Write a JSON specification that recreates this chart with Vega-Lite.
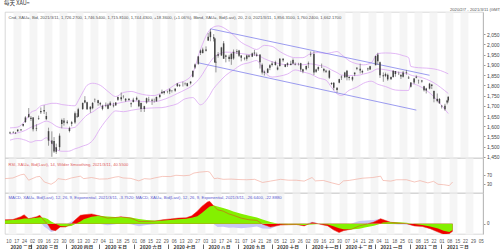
{
"$schema": "https://vega.github.io/schema/vega-lite/v6.json",
"padding": {"left": 3, "top": 0, "right": 0, "bottom": 0},
"background": "white",
"spacing": 0,
"bounds": "flush",
"config": {"view": {"stroke": "#c8c8c8", "strokeWidth": 0.7}, "font": "Liberation Sans", "axis": {"labelFont": "Liberation Sans", "titleFont": "Liberation Sans"}},
"datasets": {
"px": [
{"d":"2020-02-07","o":1566,"h":1574,"l":1562,"c":1570},{"d":"2020-02-10","o":1570,"h":1576,"l":1566,"c":1572},{"d":"2020-02-12","o":1568,"h":1572,"l":1562,"c":1566},{"d":"2020-02-14","o":1576,"h":1584,"l":1572,"c":1584},{"d":"2020-02-17","o":1584,"h":1586,"l":1578,"c":1581},{"d":"2020-02-19","o":1602,"h":1612,"l":1598,"c":1611},{"d":"2020-02-21","o":1620,"h":1649,"l":1617,"c":1643},{"d":"2020-02-24","o":1645,"h":1689,"l":1640,"c":1659},{"d":"2020-02-26","o":1635,"h":1650,"l":1626,"c":1642},{"d":"2020-02-28","o":1643,"h":1645,"l":1575,"c":1585},
{"d":"2020-03-02","o":1587,"h":1610,"l":1576,"c":1590},{"d":"2020-03-04","o":1640,"h":1652,"l":1631,"c":1637},{"d":"2020-03-06","o":1668,"h":1692,"l":1660,"c":1674},{"d":"2020-03-09","o":1672,"h":1703,"l":1660,"c":1680},{"d":"2020-03-11","o":1650,"h":1670,"l":1630,"c":1635},{"d":"2020-03-13","o":1576,"h":1593,"l":1505,"c":1530},{"d":"2020-03-16","o":1530,"h":1575,"l":1451,"c":1515},{"d":"2020-03-18","o":1528,"h":1547,"l":1470,"c":1477},{"d":"2020-03-20","o":1475,"h":1515,"l":1465,"c":1498},{"d":"2020-03-23","o":1498,"h":1565,"l":1482,"c":1554},{"d":"2020-03-25","o":1630,"h":1637,"l":1590,"c":1611},{"d":"2020-03-27","o":1628,"h":1640,"l":1603,"c":1617},{"d":"2020-03-30","o":1617,"h":1630,"l":1610,"c":1622},
{"d":"2020-04-01","o":1577,"h":1598,"l":1570,"c":1591},{"d":"2020-04-03","o":1612,"h":1626,"l":1600,"c":1620},{"d":"2020-04-06","o":1618,"h":1672,"l":1612,"c":1664},{"d":"2020-04-08","o":1649,"h":1664,"l":1640,"c":1647},{"d":"2020-04-09","o":1647,"h":1690,"l":1645,"c":1683},{"d":"2020-04-13","o":1684,"h":1716,"l":1680,"c":1714},{"d":"2020-04-15","o":1727,"h":1747,"l":1712,"c":1716},{"d":"2020-04-17","o":1717,"h":1720,"l":1680,"c":1683},{"d":"2020-04-20","o":1683,"h":1699,"l":1666,"c":1695},{"d":"2020-04-22","o":1688,"h":1718,"l":1683,"c":1714},{"d":"2020-04-24","o":1728,"h":1736,"l":1717,"c":1729},{"d":"2020-04-27","o":1727,"h":1729,"l":1700,"c":1713},{"d":"2020-04-29","o":1707,"h":1719,"l":1700,"c":1713},
{"d":"2020-05-01","o":1685,"h":1705,"l":1678,"c":1700},{"d":"2020-05-04","o":1700,"h":1716,"l":1693,"c":1702},{"d":"2020-05-06","o":1705,"h":1712,"l":1683,"c":1685},{"d":"2020-05-08","o":1715,"h":1722,"l":1699,"c":1703},{"d":"2020-05-11","o":1702,"h":1715,"l":1692,"c":1698},{"d":"2020-05-13","o":1702,"h":1718,"l":1700,"c":1716},{"d":"2020-05-15","o":1730,"h":1745,"l":1724,"c":1743},{"d":"2020-05-18","o":1742,"h":1765,"l":1722,"c":1732},{"d":"2020-05-20","o":1746,"h":1752,"l":1736,"c":1747},{"d":"2020-05-22","o":1726,"h":1738,"l":1719,"c":1734},{"d":"2020-05-25","o":1734,"h":1737,"l":1724,"c":1728},{"d":"2020-05-27","o":1712,"h":1717,"l":1693,"c":1708},{"d":"2020-05-29","o":1718,"h":1739,"l":1717,"c":1730},
{"d":"2020-06-01","o":1730,"h":1745,"l":1725,"c":1739},{"d":"2020-06-03","o":1727,"h":1730,"l":1693,"c":1698},{"d":"2020-06-05","o":1713,"h":1716,"l":1670,"c":1684},{"d":"2020-06-08","o":1684,"h":1700,"l":1670,"c":1698},{"d":"2020-06-10","o":1716,"h":1740,"l":1710,"c":1737},{"d":"2020-06-12","o":1727,"h":1744,"l":1720,"c":1730},{"d":"2020-06-15","o":1729,"h":1735,"l":1704,"c":1725},{"d":"2020-06-17","o":1727,"h":1735,"l":1716,"c":1727},{"d":"2020-06-19","o":1722,"h":1745,"l":1720,"c":1743},{"d":"2020-06-22","o":1743,"h":1756,"l":1737,"c":1754},{"d":"2020-06-24","o":1768,"h":1779,"l":1757,"c":1761},{"d":"2020-06-26","o":1762,"h":1772,"l":1755,"c":1771},{"d":"2020-06-29","o":1771,"h":1774,"l":1761,"c":1772},
{"d":"2020-07-01","o":1780,"h":1785,"l":1757,"c":1770},{"d":"2020-07-03","o":1775,"h":1776,"l":1765,"c":1773},{"d":"2020-07-06","o":1774,"h":1786,"l":1768,"c":1783},{"d":"2020-07-08","o":1796,"h":1810,"l":1792,"c":1809},{"d":"2020-07-10","o":1802,"h":1805,"l":1792,"c":1798},{"d":"2020-07-13","o":1801,"h":1818,"l":1794,"c":1801},{"d":"2020-07-15","o":1806,"h":1814,"l":1800,"c":1808},{"d":"2020-07-17","o":1796,"h":1812,"l":1795,"c":1810},{"d":"2020-07-20","o":1810,"h":1820,"l":1804,"c":1818},{"d":"2020-07-22","o":1842,"h":1871,"l":1838,"c":1871},{"d":"2020-07-24","o":1887,"h":1906,"l":1880,"c":1902},{"d":"2020-07-27","o":1905,"h":1944,"l":1900,"c":1941},{"d":"2020-07-29","o":1958,"h":1975,"l":1948,"c":1970},{"d":"2020-07-31","o":1958,"h":1984,"l":1955,"c":1975},
{"d":"2020-08-03","o":1975,"h":1990,"l":1965,"c":1969},{"d":"2020-08-05","o":2019,"h":2055,"l":2016,"c":2037},{"d":"2020-08-07","o":2062,"h":2075,"l":2015,"c":2035},{"d":"2020-08-10","o":2035,"h":2050,"l":2014,"c":2028},{"d":"2020-08-11","o":2028,"h":2032,"l":1911,"c":1911},{"d":"2020-08-12","o":1911,"h":1949,"l":1863,"c":1915},{"d":"2020-08-14","o":1952,"h":1962,"l":1935,"c":1944},{"d":"2020-08-17","o":1946,"h":1988,"l":1943,"c":1985},{"d":"2020-08-19","o":2005,"h":2016,"l":1929,"c":1930},{"d":"2020-08-21","o":1945,"h":1950,"l":1912,"c":1940},{"d":"2020-08-24","o":1940,"h":1949,"l":1916,"c":1929},{"d":"2020-08-26","o":1928,"h":1957,"l":1900,"c":1954},{"d":"2020-08-28","o":1931,"h":1975,"l":1925,"c":1964},{"d":"2020-08-31","o":1964,"h":1976,"l":1953,"c":1968},
{"d":"2020-09-02","o":1970,"h":1973,"l":1938,"c":1944},{"d":"2020-09-04","o":1945,"h":1947,"l":1917,"c":1934},{"d":"2020-09-07","o":1934,"h":1937,"l":1922,"c":1931},{"d":"2020-09-09","o":1930,"h":1950,"l":1920,"c":1946},{"d":"2020-09-11","o":1945,"h":1949,"l":1936,"c":1940},{"d":"2020-09-14","o":1940,"h":1960,"l":1938,"c":1956},{"d":"2020-09-16","o":1955,"h":1973,"l":1944,"c":1960},{"d":"2020-09-18","o":1944,"h":1960,"l":1940,"c":1950},{"d":"2020-09-21","o":1950,"h":1950,"l":1882,"c":1912},{"d":"2020-09-23","o":1900,"h":1907,"l":1853,"c":1863},{"d":"2020-09-25","o":1867,"h":1872,"l":1848,"c":1861},{"d":"2020-09-28","o":1861,"h":1884,"l":1859,"c":1881},{"d":"2020-09-30","o":1898,"h":1903,"l":1874,"c":1886},
{"d":"2020-10-02","o":1906,"h":1917,"l":1892,"c":1899},{"d":"2020-10-05","o":1899,"h":1920,"l":1896,"c":1913},{"d":"2020-10-07","o":1877,"h":1897,"l":1873,"c":1887},{"d":"2020-10-09","o":1894,"h":1933,"l":1891,"c":1930},{"d":"2020-10-12","o":1930,"h":1933,"l":1915,"c":1922},{"d":"2020-10-14","o":1890,"h":1903,"l":1888,"c":1902},{"d":"2020-10-16","o":1908,"h":1912,"l":1890,"c":1899},{"d":"2020-10-19","o":1899,"h":1920,"l":1897,"c":1905},{"d":"2020-10-21","o":1906,"h":1931,"l":1903,"c":1924},{"d":"2020-10-23","o":1904,"h":1911,"l":1897,"c":1902},{"d":"2020-10-26","o":1902,"h":1910,"l":1897,"c":1902},{"d":"2020-10-28","o":1908,"h":1910,"l":1867,"c":1877},{"d":"2020-10-30","o":1868,"h":1881,"l":1859,"c":1879},
{"d":"2020-11-02","o":1879,"h":1897,"l":1873,"c":1894},{"d":"2020-11-04","o":1907,"h":1916,"l":1884,"c":1904},{"d":"2020-11-06","o":1948,"h":1965,"l":1940,"c":1951},{"d":"2020-11-09","o":1953,"h":1966,"l":1850,"c":1862},{"d":"2020-11-11","o":1877,"h":1881,"l":1861,"c":1866},{"d":"2020-11-13","o":1878,"h":1892,"l":1870,"c":1889},{"d":"2020-11-16","o":1889,"h":1906,"l":1885,"c":1888},{"d":"2020-11-18","o":1880,"h":1885,"l":1863,"c":1871},{"d":"2020-11-20","o":1866,"h":1876,"l":1860,"c":1871},{"d":"2020-11-23","o":1871,"h":1875,"l":1831,"c":1837},{"d":"2020-11-25","o":1806,"h":1815,"l":1801,"c":1811},{"d":"2020-11-27","o":1812,"h":1816,"l":1776,"c":1788},{"d":"2020-11-30","o":1788,"h":1790,"l":1764,"c":1777},
{"d":"2020-12-02","o":1813,"h":1832,"l":1810,"c":1830},{"d":"2020-12-04","o":1842,"h":1848,"l":1826,"c":1839},{"d":"2020-12-07","o":1839,"h":1866,"l":1835,"c":1863},{"d":"2020-12-09","o":1871,"h":1875,"l":1824,"c":1839},{"d":"2020-12-11","o":1836,"h":1845,"l":1824,"c":1840},{"d":"2020-12-14","o":1840,"h":1844,"l":1820,"c":1828},{"d":"2020-12-16","o":1854,"h":1863,"l":1845,"c":1862},{"d":"2020-12-18","o":1886,"h":1889,"l":1874,"c":1881},{"d":"2020-12-21","o":1881,"h":1906,"l":1858,"c":1872},{"d":"2020-12-23","o":1863,"h":1876,"l":1857,"c":1870},{"d":"2020-12-28","o":1882,"h":1886,"l":1870,"c":1878},{"d":"2020-12-30","o":1877,"h":1895,"l":1876,"c":1893},
{"d":"2021-01-04","o":1898,"h":1945,"l":1898,"c":1943},{"d":"2021-01-06","o":1950,"h":1959,"l":1901,"c":1918},{"d":"2021-01-08","o":1912,"h":1916,"l":1836,"c":1849},{"d":"2021-01-11","o":1849,"h":1863,"l":1817,"c":1844},{"d":"2021-01-13","o":1855,"h":1862,"l":1840,"c":1846},{"d":"2021-01-15","o":1851,"h":1857,"l":1822,"c":1829},{"d":"2021-01-18","o":1829,"h":1843,"l":1827,"c":1840},{"d":"2021-01-20","o":1840,"h":1873,"l":1837,"c":1871},{"d":"2021-01-22","o":1870,"h":1870,"l":1842,"c":1855},{"d":"2021-01-25","o":1855,"h":1867,"l":1850,"c":1856},{"d":"2021-01-27","o":1850,"h":1855,"l":1831,"c":1843},{"d":"2021-01-29","o":1842,"h":1870,"l":1838,"c":1863},
{"d":"2021-02-01","o":1863,"h":1875,"l":1852,"c":1860},{"d":"2021-02-03","o":1838,"h":1846,"l":1831,"c":1834},{"d":"2021-02-05","o":1793,"h":1815,"l":1789,"c":1814},{"d":"2021-02-08","o":1814,"h":1836,"l":1806,"c":1833},{"d":"2021-02-10","o":1837,"h":1848,"l":1834,"c":1842},{"d":"2021-02-12","o":1825,"h":1828,"l":1808,"c":1824},{"d":"2021-02-15","o":1824,"h":1826,"l":1813,"c":1818},{"d":"2021-02-17","o":1795,"h":1798,"l":1770,"c":1776},{"d":"2021-02-19","o":1775,"h":1788,"l":1760,"c":1784},{"d":"2021-02-22","o":1784,"h":1812,"l":1780,"c":1808},{"d":"2021-02-24","o":1804,"h":1805,"l":1782,"c":1797},{"d":"2021-02-26","o":1772,"h":1775,"l":1717,"c":1734},
{"d":"2021-03-01","o":1734,"h":1760,"l":1717,"c":1723},{"d":"2021-03-03","o":1733,"h":1738,"l":1710,"c":1712},{"d":"2021-03-05","o":1697,"h":1704,"l":1687,"c":1700},{"d":"2021-03-08","o":1700,"h":1710,"l":1676,"c":1683},{"d":"2021-03-10","o":1716,"h":1729,"l":1707,"c":1726},{"d":"2021-03-11","o":1726,"h":1746,"l":1716,"c":1744}
],
"bb": [
{"d":"2020-02-07","u":1592,"m":1562,"lo":1532},{"d":"2020-02-14","u":1596,"m":1568,"lo":1540},{"d":"2020-02-21","u":1628,"m":1580,"lo":1532},{"d":"2020-02-26","u":1668,"m":1595,"lo":1522},{"d":"2020-03-02","u":1680,"m":1605,"lo":1530},{"d":"2020-03-06","u":1700,"m":1615,"lo":1530},{"d":"2020-03-11","u":1706,"m":1625,"lo":1544},{"d":"2020-03-16","u":1712,"m":1615,"lo":1518},{"d":"2020-03-20","u":1712,"m":1600,"lo":1488},{"d":"2020-03-25","u":1706,"m":1592,"lo":1478},{"d":"2020-03-31","u":1702,"m":1590,"lo":1478},{"d":"2020-04-06","u":1700,"m":1595,"lo":1490},{"d":"2020-04-09","u":1725,"m":1610,"lo":1495},{"d":"2020-04-14","u":1775,"m":1640,"lo":1505},{"d":"2020-04-17","u":1800,"m":1655,"lo":1510},{"d":"2020-04-22","u":1810,"m":1670,"lo":1530},{"d":"2020-04-29","u":1800,"m":1695,"lo":1590},{"d":"2020-05-06","u":1770,"m":1705,"lo":1640},{"d":"2020-05-13","u":1745,"m":1710,"lo":1675},{"d":"2020-05-20","u":1765,"m":1718,"lo":1671},{"d":"2020-05-27","u":1770,"m":1724,"lo":1678},{"d":"2020-06-03","u":1760,"m":1722,"lo":1684},{"d":"2020-06-10","u":1752,"m":1720,"lo":1688},{"d":"2020-06-17","u":1750,"m":1720,"lo":1690},{"d":"2020-06-24","u":1765,"m":1728,"lo":1691},{"d":"2020-07-01","u":1785,"m":1742,"lo":1699},{"d":"2020-07-08","u":1810,"m":1760,"lo":1710},{"d":"2020-07-15","u":1822,"m":1778,"lo":1734},{"d":"2020-07-22","u":1860,"m":1800,"lo":1740},{"d":"2020-07-29","u":1975,"m":1840,"lo":1705},{"d":"2020-08-05","u":2060,"m":1900,"lo":1740},{"d":"2020-08-10","u":2085,"m":1935,"lo":1785},{"d":"2020-08-14","u":2090,"m":1950,"lo":1810},{"d":"2020-08-21","u":2075,"m":1962,"lo":1849},{"d":"2020-08-28","u":2045,"m":1960,"lo":1875},{"d":"2020-09-04","u":2010,"m":1955,"lo":1900},{"d":"2020-09-11","u":1990,"m":1950,"lo":1910},{"d":"2020-09-18","u":1975,"m":1948,"lo":1921},{"d":"2020-09-25","u":1995,"m":1930,"lo":1865},{"d":"2020-10-02","u":1990,"m":1915,"lo":1840},{"d":"2020-10-09","u":1965,"m":1905,"lo":1845},{"d":"2020-10-16","u":1945,"m":1900,"lo":1855},{"d":"2020-10-23","u":1935,"m":1905,"lo":1875},{"d":"2020-10-30","u":1935,"m":1900,"lo":1865},{"d":"2020-11-06","u":1955,"m":1905,"lo":1855},{"d":"2020-11-13","u":1960,"m":1898,"lo":1836},{"d":"2020-11-20","u":1955,"m":1890,"lo":1825},{"d":"2020-11-25","u":1960,"m":1875,"lo":1790},{"d":"2020-11-30","u":1965,"m":1862,"lo":1759},{"d":"2020-12-04","u":1950,"m":1850,"lo":1750},{"d":"2020-12-11","u":1920,"m":1848,"lo":1776},{"d":"2020-12-18","u":1905,"m":1848,"lo":1791},{"d":"2020-12-24","u":1900,"m":1855,"lo":1810},{"d":"2020-12-31","u":1910,"m":1865,"lo":1820},{"d":"2021-01-06","u":1955,"m":1880,"lo":1805},{"d":"2021-01-13","u":1958,"m":1876,"lo":1794},{"d":"2021-01-22","u":1955,"m":1866,"lo":1777},{"d":"2021-01-29","u":1945,"m":1860,"lo":1775},{"d":"2021-02-03","u":1935,"m":1855,"lo":1775},{"d":"2021-02-05","u":1892,"m":1850,"lo":1808},{"d":"2021-02-12","u":1886,"m":1842,"lo":1798},{"d":"2021-02-19","u":1884,"m":1830,"lo":1776},{"d":"2021-02-26","u":1880,"m":1812,"lo":1744},{"d":"2021-03-04","u":1872,"m":1790,"lo":1708},{"d":"2021-03-11","u":1856,"m":1760,"lo":1662}
],
"ch": [
{"g":"up","d":"2020-08-07","v":2076},{"g":"up","d":"2021-02-22","v":1849},{"g":"dn","d":"2020-07-27","v":1910},{"g":"dn","d":"2021-02-10","v":1679}
],
"rsi": [
{"d":"2020-02-07","r":55},{"d":"2020-02-14","r":58},{"d":"2020-02-21","r":72},{"d":"2020-02-24","r":75},{"d":"2020-02-28","r":48},{"d":"2020-03-06","r":63},{"d":"2020-03-09","r":65},{"d":"2020-03-13","r":40},{"d":"2020-03-16","r":35},{"d":"2020-03-19","r":30},{"d":"2020-03-23","r":42},{"d":"2020-03-25","r":55},{"d":"2020-04-01","r":50},{"d":"2020-04-06","r":58},{"d":"2020-04-14","r":66},{"d":"2020-04-17","r":55},{"d":"2020-04-24","r":60},{"d":"2020-05-01","r":53},{"d":"2020-05-08","r":54},{"d":"2020-05-15","r":62},{"d":"2020-05-18","r":64},{"d":"2020-05-22","r":58},{"d":"2020-05-29","r":56},{"d":"2020-06-05","r":45},{"d":"2020-06-10","r":55},{"d":"2020-06-15","r":53},{"d":"2020-06-19","r":58},{"d":"2020-06-26","r":65},{"d":"2020-07-03","r":64},{"d":"2020-07-08","r":70},{"d":"2020-07-15","r":68},{"d":"2020-07-20","r":70},{"d":"2020-07-24","r":80},{"d":"2020-07-29","r":84},{"d":"2020-08-05","r":87},{"d":"2020-08-07","r":84},{"d":"2020-08-11","r":55},{"d":"2020-08-14","r":57},{"d":"2020-08-19","r":52},{"d":"2020-08-26","r":53},{"d":"2020-09-02","r":51},{"d":"2020-09-09","r":50},{"d":"2020-09-16","r":52},{"d":"2020-09-23","r":38},{"d":"2020-09-30","r":44},{"d":"2020-10-09","r":52},{"d":"2020-10-16","r":48},{"d":"2020-10-23","r":48},{"d":"2020-10-30","r":44},{"d":"2020-11-06","r":60},{"d":"2020-11-09","r":45},{"d":"2020-11-16","r":47},{"d":"2020-11-23","r":37},{"d":"2020-11-30","r":28},{"d":"2020-12-04","r":45},{"d":"2020-12-09","r":47},{"d":"2020-12-16","r":53},{"d":"2020-12-21","r":57},{"d":"2020-12-30","r":60},{"d":"2021-01-06","r":66},{"d":"2021-01-08","r":47},{"d":"2021-01-15","r":44},{"d":"2021-01-20","r":50},{"d":"2021-01-29","r":50},{"d":"2021-02-05","r":40},{"d":"2021-02-10","r":46},{"d":"2021-02-17","r":36},{"d":"2021-02-22","r":43},{"d":"2021-02-26","r":30},{"d":"2021-03-03","r":28},{"d":"2021-03-08","r":24},{"d":"2021-03-11","r":40}
],
"macd": [
{"d":"2020-02-07","m":14,"s":12,"h":2},{"d":"2020-02-14","m":15,"s":13,"h":2},{"d":"2020-02-21","m":25,"s":16,"h":9},{"d":"2020-02-24","m":32,"s":19,"h":13},{"d":"2020-02-28","m":18,"s":19,"h":-1},{"d":"2020-03-06","m":25,"s":21,"h":4},{"d":"2020-03-09","m":30,"s":23,"h":7},{"d":"2020-03-13","m":10,"s":21,"h":-11},{"d":"2020-03-16","m":-2,"s":17,"h":-19},{"d":"2020-03-19","m":-22,"s":8,"h":-30},{"d":"2020-03-23","m":-25,"s":0,"h":-25},{"d":"2020-03-27","m":-12,"s":-8,"h":-4},{"d":"2020-04-01","m":-12,"s":-10,"h":-2},{"d":"2020-04-06","m":0,"s":-8,"h":8},{"d":"2020-04-09","m":12,"s":-2,"h":14},{"d":"2020-04-14","m":30,"s":8,"h":22},{"d":"2020-04-17","m":32,"s":16,"h":16},{"d":"2020-04-24","m":35,"s":25,"h":10},{"d":"2020-05-01","m":28,"s":28,"h":0},{"d":"2020-05-08","m":20,"s":26,"h":-6},{"d":"2020-05-15","m":22,"s":24,"h":-2},{"d":"2020-05-20","m":25,"s":24,"h":1},{"d":"2020-05-29","m":20,"s":22,"h":-2},{"d":"2020-06-05","m":8,"s":17,"h":-9},{"d":"2020-06-12","m":8,"s":13,"h":-5},{"d":"2020-06-19","m":9,"s":11,"h":-2},{"d":"2020-06-26","m":14,"s":11,"h":3},{"d":"2020-07-03","m":17,"s":13,"h":4},{"d":"2020-07-10","m":20,"s":16,"h":4},{"d":"2020-07-17","m":21,"s":18,"h":3},{"d":"2020-07-22","m":28,"s":21,"h":7},{"d":"2020-07-27","m":45,"s":27,"h":18},{"d":"2020-07-31","m":62,"s":38,"h":24},{"d":"2020-08-05","m":78,"s":55,"h":23},{"d":"2020-08-07","m":80,"s":62,"h":18},{"d":"2020-08-11","m":62,"s":65,"h":-3},{"d":"2020-08-14","m":50,"s":62,"h":-12},{"d":"2020-08-19","m":45,"s":56,"h":-11},{"d":"2020-08-24","m":35,"s":50,"h":-15},{"d":"2020-08-28","m":30,"s":44,"h":-14},{"d":"2020-09-04","m":20,"s":36,"h":-16},{"d":"2020-09-11","m":14,"s":28,"h":-14},{"d":"2020-09-18","m":12,"s":22,"h":-10},{"d":"2020-09-23","m":-2,"s":15,"h":-17},{"d":"2020-09-30","m":-12,"s":6,"h":-18},{"d":"2020-10-09","m":-5,"s":-2,"h":-3},{"d":"2020-10-16","m":-4,"s":-4,"h":0},{"d":"2020-10-23","m":-3,"s":-4,"h":1},{"d":"2020-10-30","m":-8,"s":-5,"h":-3},{"d":"2020-11-06","m":4,"s":-3,"h":7},{"d":"2020-11-09","m":2,"s":-2,"h":4},{"d":"2020-11-13","m":-2,"s":-1,"h":-1},{"d":"2020-11-20","m":-8,"s":-3,"h":-5},{"d":"2020-11-25","m":-22,"s":-9,"h":-13},{"d":"2020-11-30","m":-32,"s":-16,"h":-16},{"d":"2020-12-04","m":-25,"s":-20,"h":-5},{"d":"2020-12-11","m":-20,"s":-21,"h":1},{"d":"2020-12-18","m":-8,"s":-18,"h":10},{"d":"2020-12-24","m":-2,"s":-13,"h":11},{"d":"2020-12-31","m":6,"s":-7,"h":13},{"d":"2021-01-06","m":18,"s":0,"h":18},{"d":"2021-01-08","m":15,"s":4,"h":11},{"d":"2021-01-15","m":5,"s":6,"h":-1},{"d":"2021-01-22","m":2,"s":5,"h":-3},{"d":"2021-01-29","m":0,"s":3,"h":-3},{"d":"2021-02-05","m":-8,"s":-1,"h":-7},{"d":"2021-02-12","m":-10,"s":-5,"h":-5},{"d":"2021-02-19","m":-18,"s":-10,"h":-8},{"d":"2021-02-26","m":-30,"s":-17,"h":-13},{"d":"2021-03-03","m":-38,"s":-25,"h":-13},{"d":"2021-03-08","m":-36,"s":-30,"h":-6},{"d":"2021-03-11","m":-27,"s":-23,"h":-4}
]
},
"vconcat": [
{
"width": 478, "height": 146,
"title": {"text": "每天 XAU=", "anchor": "start", "fontSize": 5.5, "offset": 0.5, "font": "Noto Sans CJK SC", "fontWeight": "normal", "color": "#333", "dx": -1},
"resolve": {"axis": {"x": "independent", "y": "independent"}},
"layer": [
{"data": {"name": "bb"}, "mark": {"type": "line", "color": "#dba6f2", "strokeWidth": 0.8, "interpolate": "monotone"},
 "encoding": {
  "x": {"field": "d", "type": "temporal", "scale": {"type": "utc", "domain": [{"year":2020,"month":2,"date":7,"utc":true},{"year":2021,"month":4,"date":7,"utc":true}]},
   "axis": {"orient": "top", "grid": true, "gridColor": "#f5f5f5", "gridWidth": 7.9, "labels": false, "ticks": false, "domain": false,
    "values": [{"year":2020,"month":2,"date":13,"hours":12,"utc":true},{"year":2020,"month":2,"date":27,"hours":12,"utc":true},{"year":2020,"month":3,"date":12,"hours":12,"utc":true},{"year":2020,"month":3,"date":26,"hours":12,"utc":true},{"year":2020,"month":4,"date":9,"hours":12,"utc":true},{"year":2020,"month":4,"date":23,"hours":12,"utc":true},{"year":2020,"month":5,"date":7,"hours":12,"utc":true},{"year":2020,"month":5,"date":21,"hours":12,"utc":true},{"year":2020,"month":6,"date":4,"hours":12,"utc":true},{"year":2020,"month":6,"date":18,"hours":12,"utc":true},{"year":2020,"month":7,"date":2,"hours":12,"utc":true},{"year":2020,"month":7,"date":16,"hours":12,"utc":true},{"year":2020,"month":7,"date":30,"hours":12,"utc":true},{"year":2020,"month":8,"date":13,"hours":12,"utc":true},{"year":2020,"month":8,"date":27,"hours":12,"utc":true},{"year":2020,"month":9,"date":10,"hours":12,"utc":true},{"year":2020,"month":9,"date":24,"hours":12,"utc":true},{"year":2020,"month":10,"date":8,"hours":12,"utc":true},{"year":2020,"month":10,"date":22,"hours":12,"utc":true},{"year":2020,"month":11,"date":5,"hours":12,"utc":true},{"year":2020,"month":11,"date":19,"hours":12,"utc":true},{"year":2020,"month":12,"date":3,"hours":12,"utc":true},{"year":2020,"month":12,"date":17,"hours":12,"utc":true},{"year":2020,"month":12,"date":31,"hours":12,"utc":true},{"year":2021,"month":1,"date":14,"hours":12,"utc":true},{"year":2021,"month":1,"date":28,"hours":12,"utc":true},{"year":2021,"month":2,"date":11,"hours":12,"utc":true},{"year":2021,"month":2,"date":25,"hours":12,"utc":true},{"year":2021,"month":3,"date":11,"hours":12,"utc":true},{"year":2021,"month":3,"date":25,"hours":12,"utc":true}],
    "title": "Cnd, XAU=, Bid, 2021/3/11, 1,726.2700, 1,746.5400, 1,715.8100, 1,744.4300, +18.3600, (+1.06%), Bbnd, XAU=, Bid(Last), 20, 2.0, 2021/3/11, 1,856.3100, 1,760.2400, 1,662.1700",
    "titleX": 3, "titleY": 5, "titleAlign": "left", "titleBaseline": "middle", "titleFontSize": 4.2, "titleFontWeight": "normal", "titleColor": "#555"}},
  "y": {"field": "u", "type": "quantitative", "scale": {"domain": [1445, 2158], "nice": false, "zero": false},
   "axis": {"orient": "right", "values": [1450,1500,1550,1600,1650,1700,1750,1800,1850,1900,1950,2000,2050], "labelFontSize": 5, "labelColor": "#444", "tickSize": 2, "tickColor": "#999", "domainColor": "#bbb", "labelPadding": 1.5, "grid": false, "labelOverlap": false,
    "labelExpr": "format(datum.value, ',')",
    "title": "2020/2/7 - 2021/3/11 (GMT)", "titleAngle": 0, "titleX": 18, "titleY": -3, "titleAlign": "right", "titleBaseline": "middle", "titleFontSize": 4.2, "titleFontWeight": "normal", "titleColor": "#555"}}
 }},
{"data": {"name": "bb"}, "mark": {"type": "line", "color": "#dba6f2", "strokeWidth": 0.8, "interpolate": "monotone"},
 "encoding": {"x": {"field": "d", "type": "temporal", "axis": null}, "y": {"field": "m", "type": "quantitative", "axis": null}}},
{"data": {"name": "bb"}, "mark": {"type": "line", "color": "#dba6f2", "strokeWidth": 0.8, "interpolate": "monotone"},
 "encoding": {"x": {"field": "d", "type": "temporal", "axis": null}, "y": {"field": "lo", "type": "quantitative", "axis": null}}},
{"data": {"name": "ch"}, "mark": {"type": "line", "color": "#8383ec", "strokeWidth": 0.8},
 "encoding": {"x": {"field": "d", "type": "temporal", "axis": null}, "y": {"field": "v", "type": "quantitative", "axis": null}, "detail": {"field": "g"}}},
{"data": {"name": "px"}, "mark": {"type": "rule", "color": "#555", "strokeWidth": 0.6},
 "encoding": {"x": {"field": "d", "type": "temporal", "axis": null}, "y": {"field": "l", "type": "quantitative", "axis": null}, "y2": {"field": "h"}}},
{"data": {"name": "px"}, "mark": {"type": "bar", "color": "#444", "width": 1.5},
 "encoding": {"x": {"field": "d", "type": "temporal", "axis": null}, "y": {"field": "o", "type": "quantitative", "axis": null}, "y2": {"field": "c"}}},
{"data": {"name": "bb"}, "transform": [{"filter": "datum.d == '2021-03-11'"}], "mark": {"type": "tick", "orient": "horizontal", "color": "#a020d8", "size": 19, "thickness": 4.5, "opacity": 1},
 "encoding": {"x": {"datum": {"year":2021,"month":4,"date":15,"hours":10,"utc":true}, "type": "temporal", "axis": null}, "y": {"field": "u", "type": "quantitative", "axis": null}}},
{"data": {"name": "bb"}, "transform": [{"filter": "datum.d == '2021-03-11'"}], "mark": {"type": "tick", "orient": "horizontal", "color": "#a020d8", "size": 19, "thickness": 4.5, "opacity": 1},
 "encoding": {"x": {"datum": {"year":2021,"month":4,"date":15,"hours":10,"utc":true}, "type": "temporal", "axis": null}, "y": {"field": "lo", "type": "quantitative", "axis": null}}},
{"data": {"name": "px"}, "transform": [{"filter": "datum.d == '2021-03-11'"}], "mark": {"type": "tick", "orient": "horizontal", "color": "#101060", "size": 19, "thickness": 5, "opacity": 1},
 "encoding": {"x": {"datum": {"year":2021,"month":4,"date":15,"hours":10,"utc":true}, "type": "temporal", "axis": null}, "y": {"field": "c", "type": "quantitative", "axis": null}}},
{"data": {"name": "px"}, "transform": [{"filter": "datum.d == '2021-03-11'"}], "mark": {"type": "text", "color": "#ffe640", "fontSize": 4.2, "align": "center", "baseline": "middle"},
 "encoding": {"x": {"datum": {"year":2021,"month":4,"date":15,"hours":10,"utc":true}, "type": "temporal", "axis": null}, "y": {"field": "c", "type": "quantitative", "axis": null}, "text": {"field": "c", "format": ",.2f"}}}
]
},
{
"width": 478, "height": 35,
"resolve": {"axis": {"x": "independent", "y": "independent"}},
"layer": [
{"data": {"name": "rsi"}, "mark": {"type": "line", "color": "#f2a293", "strokeWidth": 0.6},
 "encoding": {
  "x": {"field": "d", "type": "temporal", "scale": {"type": "utc", "domain": [{"year":2020,"month":2,"date":7,"utc":true},{"year":2021,"month":4,"date":7,"utc":true}]},
   "axis": {"orient": "top", "grid": true, "gridColor": "#f5f5f5", "gridWidth": 7.9, "labels": false, "ticks": false, "domain": false,
    "values": [{"year":2020,"month":2,"date":13,"hours":12,"utc":true},{"year":2020,"month":2,"date":27,"hours":12,"utc":true},{"year":2020,"month":3,"date":12,"hours":12,"utc":true},{"year":2020,"month":3,"date":26,"hours":12,"utc":true},{"year":2020,"month":4,"date":9,"hours":12,"utc":true},{"year":2020,"month":4,"date":23,"hours":12,"utc":true},{"year":2020,"month":5,"date":7,"hours":12,"utc":true},{"year":2020,"month":5,"date":21,"hours":12,"utc":true},{"year":2020,"month":6,"date":4,"hours":12,"utc":true},{"year":2020,"month":6,"date":18,"hours":12,"utc":true},{"year":2020,"month":7,"date":2,"hours":12,"utc":true},{"year":2020,"month":7,"date":16,"hours":12,"utc":true},{"year":2020,"month":7,"date":30,"hours":12,"utc":true},{"year":2020,"month":8,"date":13,"hours":12,"utc":true},{"year":2020,"month":8,"date":27,"hours":12,"utc":true},{"year":2020,"month":9,"date":10,"hours":12,"utc":true},{"year":2020,"month":9,"date":24,"hours":12,"utc":true},{"year":2020,"month":10,"date":8,"hours":12,"utc":true},{"year":2020,"month":10,"date":22,"hours":12,"utc":true},{"year":2020,"month":11,"date":5,"hours":12,"utc":true},{"year":2020,"month":11,"date":19,"hours":12,"utc":true},{"year":2020,"month":12,"date":3,"hours":12,"utc":true},{"year":2020,"month":12,"date":17,"hours":12,"utc":true},{"year":2020,"month":12,"date":31,"hours":12,"utc":true},{"year":2021,"month":1,"date":14,"hours":12,"utc":true},{"year":2021,"month":1,"date":28,"hours":12,"utc":true},{"year":2021,"month":2,"date":11,"hours":12,"utc":true},{"year":2021,"month":2,"date":25,"hours":12,"utc":true},{"year":2021,"month":3,"date":11,"hours":12,"utc":true},{"year":2021,"month":3,"date":25,"hours":12,"utc":true}],
    "title": "RSI, XAU=, Bid(Last), 14, Wilder Smoothing, 2021/3/11, 40.5500",
    "titleX": 3, "titleY": 6, "titleAlign": "left", "titleBaseline": "middle", "titleFontSize": 4.2, "titleFontWeight": "normal", "titleColor": "#e06060"}},
  "y": {"field": "r", "type": "quantitative", "scale": {"domain": [-9, 147], "nice": false, "zero": false},
   "axis": {"orient": "right", "values": [30, 70], "labelFontSize": 4.5, "labelColor": "#444", "tickSize": 2, "tickColor": "#999", "domainColor": "#bbb", "labelPadding": 1.5, "grid": false, "title": null}}
 }},
{"mark": {"type": "rule", "color": "#f5aca6", "strokeWidth": 0.9}, "encoding": {"y": {"datum": 70, "axis": null}}},
{"mark": {"type": "rule", "color": "#f5aca6", "strokeWidth": 0.9}, "encoding": {"y": {"datum": 30, "axis": null}}},
{"data": {"name": "rsi"}, "transform": [{"filter": "datum.d == '2021-03-11'"}], "mark": {"type": "tick", "orient": "horizontal", "color": "#f01010", "size": 19, "thickness": 4, "opacity": 1},
 "encoding": {"x": {"datum": {"year":2021,"month":4,"date":15,"hours":10,"utc":true}, "type": "temporal", "axis": null}, "y": {"field": "r", "type": "quantitative", "axis": null}}}
]
},
{
"width": 478, "height": 41,
"resolve": {"axis": {"x": "independent", "y": "independent"}},
"layer": [
{"data": {"name": "macd"}, "mark": {"type": "area", "color": "#c9c6f7", "clip": true},
 "encoding": {
  "x": {"field": "d", "type": "temporal", "scale": {"type": "utc", "domain": [{"year":2020,"month":2,"date":7,"utc":true},{"year":2021,"month":4,"date":7,"utc":true}]},
   "axis": {"orient": "top", "grid": true, "gridColor": "#f5f5f5", "gridWidth": 7.9, "labels": false, "ticks": false, "domain": false,
    "values": [{"year":2020,"month":2,"date":13,"hours":12,"utc":true},{"year":2020,"month":2,"date":27,"hours":12,"utc":true},{"year":2020,"month":3,"date":12,"hours":12,"utc":true},{"year":2020,"month":3,"date":26,"hours":12,"utc":true},{"year":2020,"month":4,"date":9,"hours":12,"utc":true},{"year":2020,"month":4,"date":23,"hours":12,"utc":true},{"year":2020,"month":5,"date":7,"hours":12,"utc":true},{"year":2020,"month":5,"date":21,"hours":12,"utc":true},{"year":2020,"month":6,"date":4,"hours":12,"utc":true},{"year":2020,"month":6,"date":18,"hours":12,"utc":true},{"year":2020,"month":7,"date":2,"hours":12,"utc":true},{"year":2020,"month":7,"date":16,"hours":12,"utc":true},{"year":2020,"month":7,"date":30,"hours":12,"utc":true},{"year":2020,"month":8,"date":13,"hours":12,"utc":true},{"year":2020,"month":8,"date":27,"hours":12,"utc":true},{"year":2020,"month":9,"date":10,"hours":12,"utc":true},{"year":2020,"month":9,"date":24,"hours":12,"utc":true},{"year":2020,"month":10,"date":8,"hours":12,"utc":true},{"year":2020,"month":10,"date":22,"hours":12,"utc":true},{"year":2020,"month":11,"date":5,"hours":12,"utc":true},{"year":2020,"month":11,"date":19,"hours":12,"utc":true},{"year":2020,"month":12,"date":3,"hours":12,"utc":true},{"year":2020,"month":12,"date":17,"hours":12,"utc":true},{"year":2020,"month":12,"date":31,"hours":12,"utc":true},{"year":2021,"month":1,"date":14,"hours":12,"utc":true},{"year":2021,"month":1,"date":28,"hours":12,"utc":true},{"year":2021,"month":2,"date":11,"hours":12,"utc":true},{"year":2021,"month":2,"date":25,"hours":12,"utc":true},{"year":2021,"month":3,"date":11,"hours":12,"utc":true},{"year":2021,"month":3,"date":25,"hours":12,"utc":true}],
    "title": "MACD, XAU=, Bid(Last), 12, 26, 9, Exponential, 2021/3/11, -3.7520; MACD, XAU=, Bid(Last), 12, 26, 9, Exponential, 2021/3/11, -26.6400, -22.8880",
    "titleX": 3, "titleY": 4.5, "titleAlign": "left", "titleBaseline": "middle", "titleFontSize": 4.2, "titleFontWeight": "normal", "titleColor": "#5a5ad0"}},
  "y": {"field": "h", "type": "quantitative", "scale": {"domain": [-37, 110], "nice": false, "zero": false},
   "axis": {"orient": "right", "values": [0], "labelFontSize": 4.5, "labelColor": "#444", "tickSize": 2, "tickColor": "#999", "domainColor": "#bbb", "labelPadding": 1.5, "grid": false, "title": null}},
  "y2": {"datum": 0}
 }},
{"data": {"name": "macd"}, "mark": {"type": "area", "color": "#f00000", "clip": true},
 "encoding": {"x": {"field": "d", "type": "temporal", "axis": null}, "y": {"field": "m", "type": "quantitative", "axis": null}, "y2": {"datum": 0}}},
{"data": {"name": "macd"}, "mark": {"type": "area", "color": "#84f000", "clip": true},
 "encoding": {"x": {"field": "d", "type": "temporal", "axis": null}, "y": {"field": "s", "type": "quantitative", "axis": null}, "y2": {"datum": 0}}},
{"data": {"name": "macd"}, "mark": {"type": "line", "color": "#e83020", "strokeWidth": 0.5, "clip": true},
 "encoding": {"x": {"field": "d", "type": "temporal", "axis": null}, "y": {"field": "m", "type": "quantitative", "axis": null}}},
{"mark": {"type": "rule", "color": "#f5aca6", "strokeWidth": 0.9}, "encoding": {"y": {"datum": 0, "axis": null}}},
{"data": {"name": "macd"}, "transform": [{"filter": "datum.d == '2021-03-11'"}], "mark": {"type": "tick", "orient": "horizontal", "color": "#1010b0", "size": 19, "thickness": 4, "opacity": 1},
 "encoding": {"x": {"datum": {"year":2021,"month":4,"date":15,"hours":10,"utc":true}, "type": "temporal", "axis": null}, "y": {"field": "h", "type": "quantitative", "axis": null}}},
{"data": {"name": "macd"}, "transform": [{"filter": "datum.d == '2021-03-11'"}], "mark": {"type": "tick", "orient": "horizontal", "color": "#f01010", "size": 19, "thickness": 4, "opacity": 1},
 "encoding": {"x": {"datum": {"year":2021,"month":4,"date":15,"hours":10,"utc":true}, "type": "temporal", "axis": null}, "y": {"field": "m", "type": "quantitative", "axis": null}}}
]
},
{
"width": 478, "height": 9,
"view": {"stroke": null},
"data": {"name": "macd"},
"mark": {"type": "tick", "opacity": 0},
"encoding": {
 "x": {"field": "d", "type": "temporal", "scale": {"type": "utc", "domain": [{"year":2020,"month":2,"date":7,"utc":true},{"year":2021,"month":4,"date":7,"utc":true}]},
  "axis": {"orient": "bottom", "grid": false, "domain": false, "ticks": false, "labelFontSize": 4.5, "labelColor": "#555", "labelPadding": -4.5, "labelBaseline": "top", "title": null,
    "labelExpr": "utcFormat(datum.value, '%d')",
    "values": [{"year":2020,"month":2,"date":10,"utc":true},{"year":2020,"month":2,"date":17,"utc":true},{"year":2020,"month":2,"date":24,"utc":true},{"year":2020,"month":3,"date":2,"utc":true},{"year":2020,"month":3,"date":9,"utc":true},{"year":2020,"month":3,"date":16,"utc":true},{"year":2020,"month":3,"date":23,"utc":true},{"year":2020,"month":3,"date":30,"utc":true},{"year":2020,"month":4,"date":6,"utc":true},{"year":2020,"month":4,"date":13,"utc":true},{"year":2020,"month":4,"date":20,"utc":true},{"year":2020,"month":4,"date":27,"utc":true},{"year":2020,"month":5,"date":4,"utc":true},{"year":2020,"month":5,"date":11,"utc":true},{"year":2020,"month":5,"date":18,"utc":true},{"year":2020,"month":5,"date":25,"utc":true},{"year":2020,"month":6,"date":1,"utc":true},{"year":2020,"month":6,"date":8,"utc":true},{"year":2020,"month":6,"date":15,"utc":true},{"year":2020,"month":6,"date":22,"utc":true},{"year":2020,"month":6,"date":29,"utc":true},{"year":2020,"month":7,"date":6,"utc":true},{"year":2020,"month":7,"date":13,"utc":true},{"year":2020,"month":7,"date":20,"utc":true},{"year":2020,"month":7,"date":27,"utc":true},{"year":2020,"month":8,"date":3,"utc":true},{"year":2020,"month":8,"date":10,"utc":true},{"year":2020,"month":8,"date":17,"utc":true},{"year":2020,"month":8,"date":24,"utc":true},{"year":2020,"month":8,"date":31,"utc":true},{"year":2020,"month":9,"date":7,"utc":true},{"year":2020,"month":9,"date":14,"utc":true},{"year":2020,"month":9,"date":21,"utc":true},{"year":2020,"month":9,"date":28,"utc":true},{"year":2020,"month":10,"date":5,"utc":true},{"year":2020,"month":10,"date":12,"utc":true},{"year":2020,"month":10,"date":19,"utc":true},{"year":2020,"month":10,"date":26,"utc":true},{"year":2020,"month":11,"date":2,"utc":true},{"year":2020,"month":11,"date":9,"utc":true},{"year":2020,"month":11,"date":16,"utc":true},{"year":2020,"month":11,"date":23,"utc":true},{"year":2020,"month":11,"date":30,"utc":true},{"year":2020,"month":12,"date":7,"utc":true},{"year":2020,"month":12,"date":14,"utc":true},{"year":2020,"month":12,"date":21,"utc":true},{"year":2020,"month":12,"date":28,"utc":true},{"year":2021,"month":1,"date":4,"utc":true},{"year":2021,"month":1,"date":11,"utc":true},{"year":2021,"month":1,"date":18,"utc":true},{"year":2021,"month":1,"date":25,"utc":true},{"year":2021,"month":2,"date":1,"utc":true},{"year":2021,"month":2,"date":8,"utc":true},{"year":2021,"month":2,"date":15,"utc":true},{"year":2021,"month":2,"date":22,"utc":true},{"year":2021,"month":3,"date":1,"utc":true},{"year":2021,"month":3,"date":8,"utc":true},{"year":2021,"month":3,"date":15,"utc":true},{"year":2021,"month":3,"date":22,"utc":true},{"year":2021,"month":3,"date":29,"utc":true},{"year":2021,"month":4,"date":5,"utc":true}]}}
}
},
{
"width": 478, "height": 1,
"view": {"stroke": null},
"data": {"name": "macd"},
"mark": {"type": "tick", "opacity": 0},
"encoding": {
 "x": {"field": "d", "type": "temporal", "scale": {"type": "utc", "domain": [{"year":2020,"month":2,"date":7,"utc":true},{"year":2021,"month":4,"date":7,"utc":true}]},
  "axis": {"orient": "bottom", "grid": false, "domain": false, "tickSize": 5, "tickColor": "#666",
   "tickOpacity": {"condition": {"test": "datum.value < utc(2020,1,20)", "value": 0}, "value": 1},
   "labelFontSize": 4.8, "labelColor": "#333", "labelFont": "Noto Sans CJK SC", "labelFontWeight": "bold", "labelPadding": -5, "labelAlign": "left", "labelOffset": 5, "labelBaseline": "top", "title": null,
   "labelExpr": "utcFormat(datum.value, '%Y') + ' ' + ['一月','二月','三月','四月','五月','六月','七月','八月','九月','十月','十一月','十二月'][utcmonth(datum.value)]",
   "values": [{"year":2020,"month":2,"date":7,"utc":true},{"year":2020,"month":3,"date":1,"utc":true},{"year":2020,"month":4,"date":1,"utc":true},{"year":2020,"month":5,"date":1,"utc":true},{"year":2020,"month":6,"date":1,"utc":true},{"year":2020,"month":7,"date":1,"utc":true},{"year":2020,"month":8,"date":1,"utc":true},{"year":2020,"month":9,"date":1,"utc":true},{"year":2020,"month":10,"date":1,"utc":true},{"year":2020,"month":11,"date":1,"utc":true},{"year":2020,"month":12,"date":1,"utc":true},{"year":2021,"month":1,"date":1,"utc":true},{"year":2021,"month":2,"date":1,"utc":true},{"year":2021,"month":3,"date":1,"utc":true}]}}
}
}
]
}
